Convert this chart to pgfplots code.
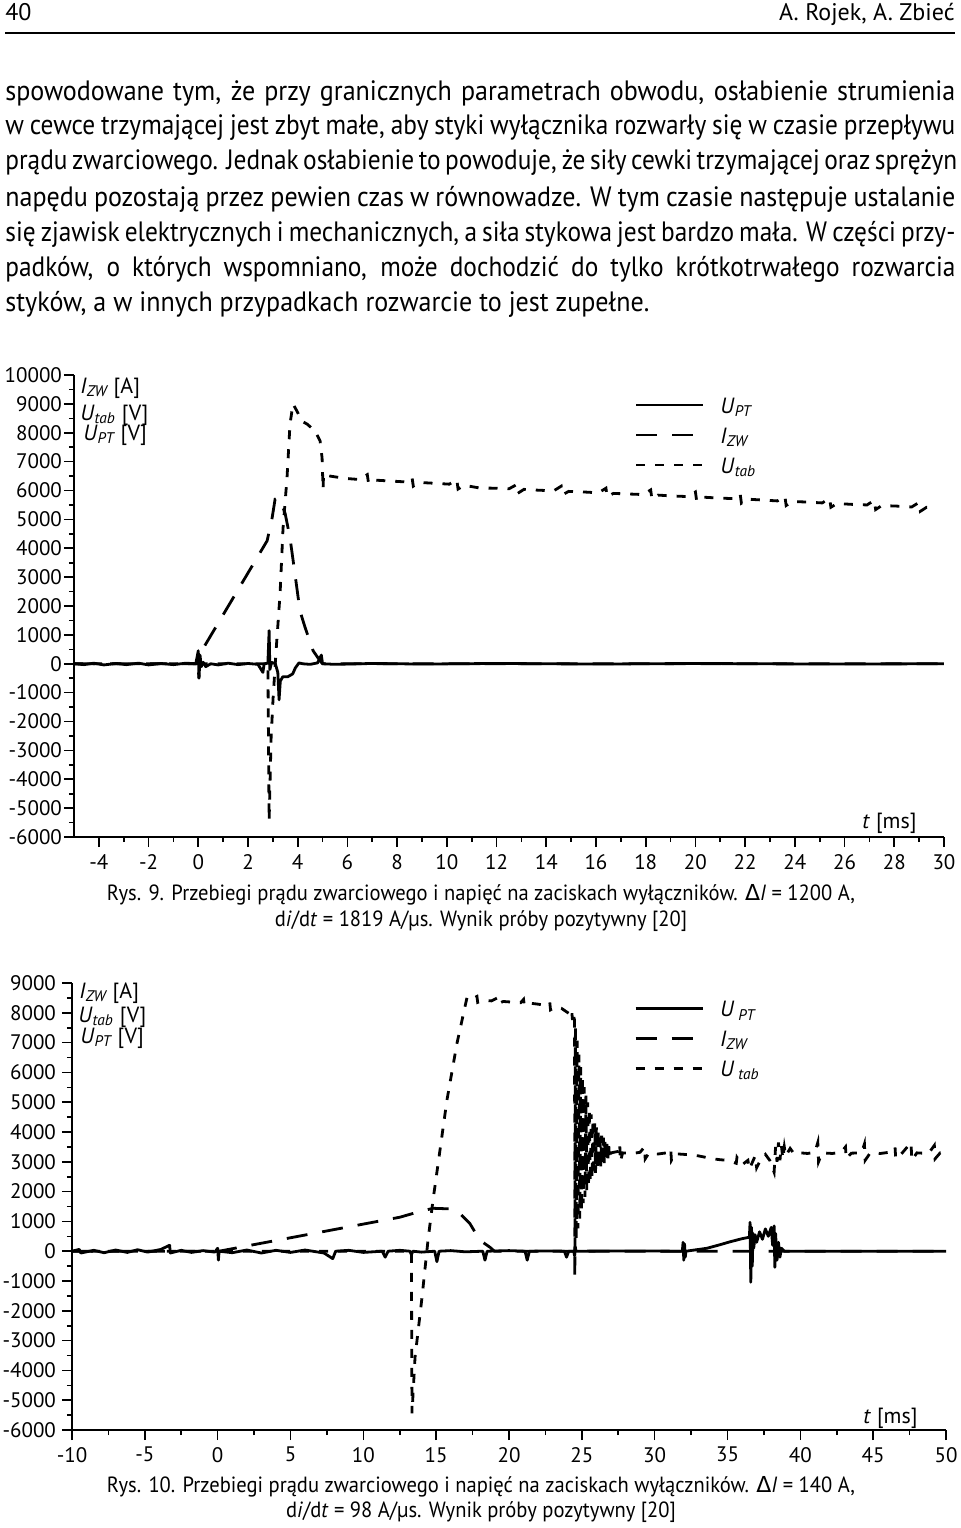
\documentclass[border=0pt]{standalone}
\usepackage{fontspec}
\setmainfont{PT Sans}
\newfontfamily\bodyfont{PT Sans}[FakeStretch=0.905]
\newfontfamily\bodyfontw{PT Sans}[FakeStretch=0.93]
\newfontfamily\capfont{PT Sans}[FakeStretch=0.935]
\newfontfamily\dejavu{DejaVu Sans}
\usepackage{pgfplots}
\pgfplotsset{compat=1.18}

\newcommand{\sub}[1]{\textsubscript{\itshape #1}}
\newcommand{\fs}[1]{\fontsize{#1}{#1}\selectfont}

\pgfplotsset{
  osc/.style={
    scale only axis, axis lines*=left, tick align=outside,
    major tick length=5pt, minor tick length=2.5pt,
    axis line style={line width=0.8pt},
    every tick/.style={black, line width=0.8pt},
    tick label style={font=\fs{10.5}},
    /pgf/number format/assume math mode=true,
    /pgf/number format/1000 sep={},
    scaled ticks=false,
    minor x tick num=1, minor y tick num=1,
    legend cell align=left,
    legend image code/.code={\draw[##1] (0pt,1.5pt) -- (33.5pt,1.5pt);},
    legend style={draw=none, fill=none, font=\fs{11}, inner sep=0pt, row sep=4pt,
      nodes={inner sep=0pt, text height=8pt, text depth=3pt},
      /tikz/every odd column/.append style={column sep=8pt}},
  },
  upt/.style={black, line width=1.4pt, line join=round},
  izw/.style={black, line width=1.4pt, dash pattern=on 10.5pt off 7.5pt},
  utab/.style={black, line width=1.4pt, dash pattern=on 4.5pt off 5pt},
}

\begin{document}
\begin{tikzpicture}
\useasboundingbox (0pt,0pt) rectangle (480pt,-764pt);

% page header
\node[anchor=base west, inner sep=0pt, font=\fs{12}] at (2.5pt,-10pt) {40};
\node[anchor=base east, inner sep=0pt, font=\fs{12}] at (477.5pt,-10pt) {A. Rojek, A. Zbieć};
\draw[line width=0.7pt] (2.5pt,-16.5pt) -- (477.5pt,-16.5pt);

% body text
\begin{scope}[every node/.style={anchor=base west, inner sep=0pt, font=\bodyfont\fs{14}}]
\node[font=\bodyfontw\fs{14}] at (2.5pt,-50pt) {\makebox[475pt][s]{spowodowane tym, że przy granicznych parametrach obwodu, osłabienie strumienia}};
\node at (2.5pt,-67.25pt) {\makebox[475pt][s]{w cewce trzymającej jest zbyt małe, aby styki wyłącznika rozwarły się w czasie przepływu}};
\node at (2.5pt,-84.5pt) {\makebox[475pt][s]{prądu zwarciowego. Jednak osłabienie to powoduje, że siły cewki trzymającej oraz sprężyn}};
\node[font=\bodyfontw\fs{14}] at (2.5pt,-103pt) {\makebox[475pt][s]{napędu pozostają przez pewien czas w równowadze. W tym czasie następuje ustalanie}};
\node at (2.5pt,-120.5pt) {\makebox[475pt][s]{się zjawisk elektrycznych i mechanicznych, a siła stykowa jest bardzo mała. W części przy-}};
\node at (2.5pt,-138pt) {\makebox[475pt][s]{padków, o których wspomniano, może dochodzić do tylko krótkotrwałego rozwarcia}};
\node[font=\bodyfontw\fs{14}] at (2.5pt,-155.5pt) {styków, a w innych przypadkach rozwarcie to jest zupełne.};
\end{scope}

% ---------------- Rys. 9
\begin{axis}[osc, at={(37pt,-418.5pt)}, anchor=south west,
  width=435pt, height=231pt,
  xmin=-5, xmax=30, ymin=-6000, ymax=10000,
  xtick={-4,-2,...,30}, ytick={-6000,-5000,...,10000},
  yticklabel style={xshift=2.5pt},
  legend style={at={(axis cs:17.54,9250)}, anchor=north west}]

% U_PT
\addplot[upt] coordinates {(-5,0) (-4.6,-30) (-4.2,20) (-3.8,-40) (-3.3,10) (-2.9,-30)
 (-2.4,20) (-2,-40) (-1.5,10) (-1,-30) (-0.5,20) (-0.1,0) (0,450) (0.03,-500) (0.07,300)
 (0.12,-100) (0.2,50) (0.3,-100) (0.5,0) (0.8,-40) (1.2,20) (1.6,-30) (2,10) (2.4,-20)
 (2.6,-300) (2.65,0) (2.8,20) (2.85,1150) (2.88,-200) (2.95,50) (3.1,0) (3.2,-300)
 (3.25,-1250) (3.3,-600) (3.4,-450) (3.6,-450) (3.8,-350) (3.9,-150) (4.05,30) (4.2,0)
 (4.5,-20) (4.8,30) (4.95,300) (5.0,0) (5.5,-20) (7,10) (9,-10) (12,10) (16,-10) (20,10)
 (25,-10) (30,0)};
\addlegendentry{\textit{U}\sub{PT}}

% I_ZW
\addplot[izw] coordinates {(-5,0) (0,0) (0.07,350) (2.77,4260) (2.97,5050) (3.09,5700)
 (3.25,5750) (3.49,5220) (3.69,4360) (3.89,3110) (4.09,1830) (4.30,1250) (4.62,450)
 (4.90,100) (5.0,0) (30,0)};
\addlegendentry{\textit{I}\sub{ZW}}

% U_tab
\addplot[utab] coordinates {(-5,0) (0,0) (0.02,-500) (0.06,0) (2.8,0) (2.85,-5430)
 (2.93,-2560) (3.01,-1180) (3.13,450) (3.29,2420) (3.41,4700) (3.57,6440) (3.69,8300)
 (3.81,9000) (3.97,8750) (4.17,8400) (4.38,8300) (4.70,8060) (4.90,7720) (4.98,7130)
 (5.02,6050) (5.04,6570) (5.3,6500) (5.9,6420) (6.5,6380) (6.8,6550) (6.85,6250)
 (7.1,6360) (7.7,6330) (8.3,6300) (8.6,6450) (8.65,6150) (8.9,6280) (9.5,6250)
 (10.1,6220) (10.4,6380) (10.45,6050) (10.7,6180) (11.3,6090) (11.9,6080) (12.5,6060)
 (12.8,6200) (12.85,5900) (13.1,6040) (13.7,6010) (14.3,5990) (14.6,6150) (14.65,5850)
 (14.9,5970) (15.5,5950) (16.1,5920) (16.4,6080) (16.45,5780) (16.7,5900) (17.3,5880)
 (17.9,5860) (18.2,6020) (18.25,5700) (18.5,5840) (19.1,5810) (19.7,5790) (20.0,5950)
 (20.05,5640) (20.3,5770) (20.9,5740) (21.5,5720) (21.8,5880) (21.85,5560) (22.1,5700)
 (22.7,5670) (23.3,5640) (23.6,5800) (23.65,5480) (23.9,5620) (24.5,5600) (25.1,5570)
 (25.4,5730) (25.45,5420) (25.7,5550) (26.3,5520) (26.9,5500) (27.2,5660) (27.25,5340)
 (27.5,5480) (28.1,5460) (28.7,5430) (29.0,5590) (29.05,5280) (29.3,5420) (29.7,5400)};
\addlegendentry{\textit{U}\sub{tab}}
\end{axis}

\begin{scope}[every node/.style={anchor=base west, inner sep=0pt, font=\fs{11}}]
\node at (40pt,-196.5pt) {\textit{I}\sub{ZW} [A]};
\node at (40pt,-210pt) {\textit{U}\sub{tab} [V]};
\node at (41.5pt,-220pt) {\textit{U}\sub{PT} [V]};
\node at (431pt,-414pt) {\textit{t} [ms]};
\end{scope}
\node[anchor=base, inner sep=0pt, font=\capfont\fs{11}] at (240.5pt,-450pt)
  {Rys. 9. Przebiegi prądu zwarciowego i napięć na zaciskach wyłączników. {\dejavu Δ}\textit{I} = 1200 A,};
\node[anchor=base, inner sep=0pt, font=\capfont\fs{11}] at (240.5pt,-463pt)
  {d\textit{i}/d\textit{t} = 1819 A/µs. Wynik próby pozytywny [20]};

% ---------------- Rys. 10
\begin{axis}[osc, at={(36pt,-715pt)}, anchor=south west,
  width=437pt, height=223.5pt,
  xmin=-10, xmax=50, ymin=-6000, ymax=9000,
  xtick={-10,-5,...,50}, ytick={-6000,-5000,...,9000},
  yticklabel style={xshift=0.5pt},
  legend style={at={(axis cs:28.57,8420)}, anchor=north west}]

% U_PT
\addplot[upt] coordinates {(-10,0) (-9.5,60) (-9.4,-60) (-8.5,30) (-7.8,-50) (-7.0,40)
 (-6.2,-40) (-5.5,50) (-4.8,-30) (-3.9,60) (-3.3,200) (-3.25,-60) (-2.5,30) (-1.8,-40)
 (-1,20) (-0.2,-30) (0,100) (0.05,-300) (0.1,0) (1,-50) (2,40) (3,-60) (4,30) (5,-40)
 (6,40) (7.3,-60) (7.9,-250) (8.1,0) (9,30) (10,-40) (11.3,0) (11.5,-200) (11.7,0)
 (12.5,30) (13.2,0) (13.3,-120) (13.4,0) (14,-30) (14.9,0) (15.05,-350) (15.2,0)
 (16,20) (17,-20) (18.2,0) (18.35,-300) (18.5,0) (20,20) (21.1,0) (21.25,-300) (21.4,0)
 (23,10) (23.8,0) (23.95,-200) (24.1,0) (24.45,0) (24.5,-150) (24.55,150) (24.6,0)
 (28,10) (31.9,0) (31.95,300) (32.0,-300) (32.05,250) (32.1,-200) (32.15,0) (33.6,100)
 (34.5,220) (35.2,320) (36.0,420) (36.5,470) (36.55,970) (36.6,-1040) (36.65,800)
 (36.7,-500) (36.75,600) (36.8,100) (36.9,550) (37.0,300) (37.2,650) (37.4,400)
 (37.6,750) (37.8,500) (38.0,800) (38.1,200) (38.2,850) (38.25,-540) (38.3,600)
 (38.4,-300) (38.5,300) (38.6,-200) (38.7,100) (38.9,0) (50,0)};
\addlegendentry{\textit{U}\hspace{2pt}\sub{PT}}

% I_ZW
\addplot[izw] coordinates {(-10,0) (0.1,0) (1.5,130) (12.5,1140) (14.0,1350) (14.8,1440)
 (16.0,1420) (16.4,1380) (17.3,940) (18.0,370) (18.7,130) (19,0) (50,0)};
\addlegendentry{\textit{I}\sub{ZW}}

% U_tab
\addplot[utab] coordinates {(-10,0) (13.3,0) (13.34,-5440) (13.55,-3560) (14.03,-1540)
 (14.44,370) (14.78,1700) (15.74,5070) (16.43,6980) (17.12,8520) (17.4,8450) (17.8,8550)
 (17.85,8350) (18.2,8420) (18.8,8400) (19.2,8500) (19.25,8300) (19.6,8380) (20.2,8360)
 (20.8,8340) (21.0,8450) (21.05,8250) (21.5,8320) (22,8290) (22.5,8250) (22.8,8350)
 (22.85,8100) (23.2,8200) (23.6,8150) (23.9,8050) (24.2,7950) (24.3,8100) (24.35,7800)
 (24.45,7800) (24.5,8000) (24.52,-800)
 (24.56,7600) (24.62,410) (24.68,7070) (24.74,770) (24.80,6600) (24.86,1090)
 (24.92,6180) (24.98,1360) (25.04,5830) (25.10,1610) (25.16,5510) (25.22,1820)
 (25.28,5230) (25.34,2000) (25.40,4990) (25.46,2160) (25.52,4780) (25.58,2310)
 (25.64,4590) (25.70,2430) (25.76,4430) (25.82,2540) (25.88,4290) (25.94,2630)
 (26.00,4170) (26.06,2720) (26.12,4060) (26.18,2790) (26.24,3970) (26.30,2850)
 (26.36,3880) (26.42,2910) (26.48,3810) (26.54,2960) (26.60,3750) (26.66,3000)
 (26.72,3690) (26.78,3040) (26.84,3640) (26.90,3070) (27.0,3300)
 (27.5,3350) (27.6,3600) (27.65,3000) (27.8,3300) (28.5,3280) (29,3320) (29.3,3500)
 (29.35,3100) (29.6,3290) (30.2,3260) (30.8,3300) (31.1,3450) (31.15,3050) (31.4,3270)
 (32.0,3250) (32.5,3230) (33.0,3200) (33.5,3150) (34.0,3100) (34.5,3070) (35.0,3050)
 (35.6,2950) (35.65,3150) (36.0,2900) (36.4,3050) (36.5,2750) (36.9,3200) (37.0,2800)
 (37.3,3100) (37.6,3250) (37.9,3050) (38.2,2650) (38.3,3500) (38.4,3000) (38.5,3650)
 (38.6,3050) (38.7,3550) (38.8,3100) (38.9,3500) (39.0,3200) (39.3,3450) (39.6,3250)
 (40.0,3300) (40.5,3280) (41.0,3320) (41.2,3650) (41.25,3000) (41.5,3300) (42.2,3280)
 (42.8,3320) (43.1,3500) (43.15,3100) (43.5,3290) (44.2,3300) (44.4,3600) (44.45,3050)
 (44.8,3300) (45.5,3280) (46.1,3320) (46.5,3500) (46.55,3100) (47,3300) (47.6,3650)
 (47.65,3050) (48,3300) (48.8,3280) (49.2,3550) (49.25,3100) (49.6,3300) (50,3300)};
\addlegendentry{\textit{U}\hspace{2pt}\sub{tab}}
\end{axis}

\begin{scope}[every node/.style={anchor=base west, inner sep=0pt, font=\fs{11}}]
\node at (39.5pt,-499pt) {\textit{I}\sub{ZW} [A]};
\node at (39pt,-511pt) {\textit{U}\sub{tab} [V]};
\node at (40pt,-521.5pt) {\textit{U}\sub{PT} [V]};
\node at (431.5pt,-711.5pt) {\textit{t} [ms]};
\end{scope}
\node[anchor=base, inner sep=0pt, font=\capfont\fs{11}] at (240.5pt,-746pt)
  {Rys. 10. Przebiegi prądu zwarciowego i napięć na zaciskach wyłączników. {\dejavu Δ}\textit{I} = 140 A,};
\node[anchor=base, inner sep=0pt, font=\capfont\fs{11}] at (240.5pt,-758.5pt)
  {d\textit{i}/d\textit{t} = 98 A/µs. Wynik próby pozytywny [20]};
\end{tikzpicture}
\end{document}
